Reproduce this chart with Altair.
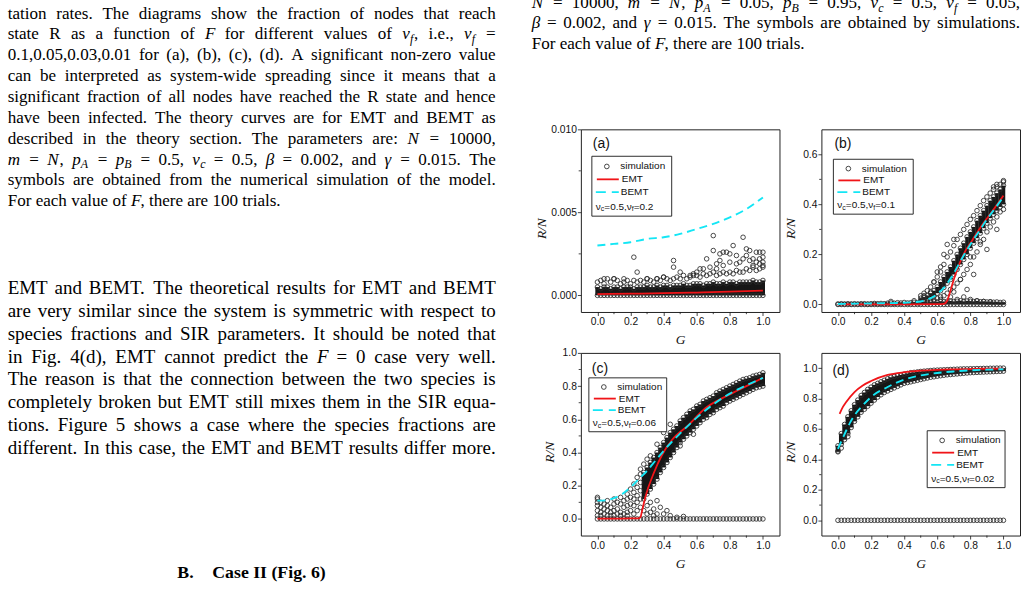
import re
import altair as alt
import pandas as pd

SANS = "Liberation Sans"
SERIF = "Liberation Serif"
RED = "#f01418"
CYAN = "#14e6f5"
INK = "#161616"

# ------------------------------------------------------------------ data
G = [0.00, 0.02, 0.04, 0.06, 0.08, 0.10, 0.12, 0.14, 0.16, 0.18,
     0.20, 0.22, 0.24, 0.26, 0.28, 0.30, 0.32, 0.34, 0.36, 0.38,
     0.40, 0.42, 0.44, 0.46, 0.48, 0.50, 0.52, 0.54, 0.56, 0.58,
     0.60, 0.62, 0.64, 0.66, 0.68, 0.70, 0.72, 0.74, 0.76, 0.78,
     0.80, 0.82, 0.84, 0.86, 0.88, 0.90, 0.92, 0.94, 0.96, 0.98, 1.00]
zero_row = [0.0 for _ in G]

# (a) nu_f = 0.2
a_band_hi = [0.0005, 0.0004, 0.0005, 0.0005, 0.0004, 0.0005, 0.0005, 0.0004, 0.0005, 0.0005,
             0.0005, 0.0004, 0.0005, 0.0005, 0.0005, 0.0006, 0.0005, 0.0005, 0.0006, 0.0005,
             0.0006, 0.0006, 0.0005, 0.0006, 0.0006, 0.0006, 0.0007, 0.0006, 0.0006, 0.0007,
             0.0007, 0.0007, 0.0006, 0.0007, 0.0007, 0.0008, 0.0007, 0.0007, 0.0008, 0.0007,
             0.0008, 0.0008, 0.0007, 0.0008, 0.0008, 0.0008, 0.0008, 0.0009, 0.0008, 0.0008, 0.0009]
a_top = [0.0008, 0.0009, 0.0007, 0.0010, 0.0008, 0.0010, 0.0009, 0.0007, 0.0008, 0.0009,
         0.0007, 0.0009, 0.0008, 0.0009, 0.0008, 0.0010, 0.0009, 0.0008, 0.0010, 0.0009,
         0.0011, 0.0010, 0.0009, 0.0010, 0.0011, 0.0010, 0.0012, 0.0010, 0.0011, 0.0012,
         0.0012, 0.0011, 0.0013, 0.0012, 0.0013, 0.0014, 0.0012, 0.0013, 0.0014, 0.0013,
         0.0014, 0.0013, 0.0015, 0.0014, 0.0014, 0.0016, 0.0015, 0.0017, 0.0015, 0.0016, 0.0018]
a_out_G = [0.22, 0.24, 0.30, 0.46, 0.46, 0.50, 0.56, 0.62, 0.64, 0.66,
           0.70, 0.70, 0.72, 0.74, 0.74, 0.76, 0.78, 0.80, 0.80, 0.82,
           0.84, 0.86, 0.88, 0.90, 0.90, 0.92, 0.92, 0.94, 0.96, 0.96,
           0.98, 0.98, 1.00, 1.00, 1.00, 0.58, 0.60, 0.68, 0.72, 0.76,
           0.84, 0.88, 0.94, 0.98, 1.00, 0.40, 0.36, 0.10, 0.04, 0.16]
a_out_R = [0.0023, 0.0014, 0.0010, 0.0021, 0.0017, 0.0014, 0.0012, 0.0016, 0.0016, 0.0022,
           0.0036, 0.0027, 0.0019, 0.0025, 0.0021, 0.0026, 0.0026, 0.0025, 0.0020, 0.0030,
           0.0024, 0.0020, 0.0035, 0.0028, 0.0024, 0.0027, 0.0021, 0.0022, 0.0026, 0.0020,
           0.0026, 0.0022, 0.0026, 0.0023, 0.0020, 0.0013, 0.0014, 0.0017, 0.0016, 0.0018,
           0.0019, 0.0022, 0.0018, 0.0019, 0.0017, 0.0011, 0.0010, 0.0010, 0.0010, 0.0010]
a_emt_G = [0.0, 0.2, 0.4, 0.6, 0.8, 1.0]
a_emt = [0.00008, 0.00010, 0.00013, 0.00017, 0.00022, 0.00028]
a_bemt_G = [0.0, 0.1, 0.2, 0.3, 0.4, 0.5, 0.6, 0.7, 0.8, 0.9, 1.0]
a_bemt = [0.0030, 0.0031, 0.0032, 0.0034, 0.0035, 0.0037, 0.0040, 0.0043, 0.0047, 0.0052, 0.0059]

# (b) nu_f = 0.1
b_zero_hi = [0.002, 0.003, 0.002, 0.003, 0.002, 0.003, 0.002, 0.003, 0.003, 0.002,
             0.003, 0.004, 0.003, 0.004, 0.003, 0.005, 0.006, 0.005, 0.007, 0.006,
             0.008, 0.006, 0.007, 0.009, 0.007, 0.008, 0.010, 0.008, 0.009, 0.011,
             0.010, 0.012, 0.011, 0.013, 0.014, 0.012, 0.013, 0.015, 0.012, 0.014,
             0.013, 0.012, 0.014, 0.011, 0.012, 0.010, 0.011, 0.009, 0.010, 0.008, 0.009]
b_band_G = G[25:]
b_core_lo = [0.015, 0.018, 0.022, 0.027, 0.033, 0.045, 0.055, 0.068, 0.085, 0.100,
             0.120, 0.140, 0.160, 0.180, 0.200, 0.225, 0.245, 0.265, 0.285, 0.305,
             0.325, 0.345, 0.360, 0.375, 0.390, 0.400]
b_core_hi = [0.025, 0.030, 0.036, 0.045, 0.055, 0.070, 0.090, 0.110, 0.130, 0.150,
             0.175, 0.200, 0.225, 0.245, 0.270, 0.290, 0.310, 0.335, 0.355, 0.375,
             0.395, 0.415, 0.430, 0.445, 0.460, 0.475]
b_spread_lo = [0.008, 0.010, 0.012, 0.015, 0.018, 0.025, 0.030, 0.035, 0.045, 0.060,
               0.070, 0.085, 0.100, 0.120, 0.140, 0.160, 0.190, 0.210, 0.240, 0.260,
               0.290, 0.310, 0.330, 0.350, 0.370, 0.380]
b_spread_hi = [0.035, 0.045, 0.055, 0.070, 0.090, 0.110, 0.130, 0.160, 0.190, 0.210,
               0.235, 0.260, 0.280, 0.300, 0.320, 0.340, 0.355, 0.375, 0.395, 0.415,
               0.430, 0.445, 0.460, 0.470, 0.480, 0.490]
b_out_G = [0.32, 0.46, 0.52, 0.56, 0.60, 0.62, 0.64, 0.66, 0.70, 0.74,
           0.78, 0.80, 0.82, 0.86, 0.90, 0.96, 0.94, 0.96, 1.00, 0.68,
           0.70, 0.72, 0.76, 0.80, 0.84, 0.88, 0.92, 0.58, 0.62]
b_out_R = [0.012, 0.015, 0.035, 0.050, 0.130, 0.150, 0.200, 0.240, 0.260, 0.100,
           0.060, 0.190, 0.120, 0.250, 0.220, 0.300, 0.470, 0.480, 0.495, 0.030,
           0.050, 0.020, 0.030, 0.020, 0.015, 0.012, 0.010, 0.090, 0.020]
b_emt_G = [0.0, 0.2, 0.4, 0.6, 0.64, 0.66, 0.68, 0.70, 0.72, 0.74, 0.77, 0.81, 0.87, 0.93, 1.0]
b_emt = [0.0, 0.0, 0.0, 0.001, 0.002, 0.015, 0.055, 0.100, 0.140, 0.172, 0.214, 0.255, 0.317, 0.370, 0.435]
b_bemt_G = [0.0, 0.1, 0.2, 0.3, 0.4, 0.5, 0.55, 0.6, 0.65, 0.7, 0.75, 0.8, 0.85, 0.9, 0.95, 1.0]
b_bemt = [0.002, 0.003, 0.004, 0.005, 0.007, 0.012, 0.022, 0.042, 0.075, 0.125, 0.185, 0.240, 0.290, 0.340, 0.385, 0.430]

# (c) nu_f = 0.06
c_scat_G = [0.00, 0.00, 0.00, 0.00, 0.00, 0.00, 0.02, 0.02, 0.02, 0.02,
            0.04, 0.04, 0.04, 0.06, 0.06, 0.06, 0.06, 0.08, 0.08, 0.08,
            0.10, 0.10, 0.10, 0.10, 0.12, 0.12, 0.12, 0.14, 0.14, 0.14,
            0.14, 0.16, 0.16, 0.16, 0.18, 0.18, 0.18, 0.18, 0.18, 0.20,
            0.20, 0.20, 0.20, 0.22, 0.22, 0.22, 0.22, 0.22, 0.24, 0.24,
            0.24, 0.24, 0.24, 0.26, 0.26, 0.26, 0.26, 0.26]
c_scat_R = [0.13, 0.12, 0.10, 0.08, 0.05, 0.02, 0.10, 0.07, 0.04, 0.02,
            0.09, 0.06, 0.03, 0.11, 0.08, 0.05, 0.02, 0.07, 0.04, 0.02,
            0.12, 0.09, 0.05, 0.02, 0.10, 0.06, 0.03, 0.13, 0.09, 0.04,
            0.02, 0.11, 0.07, 0.03, 0.15, 0.12, 0.08, 0.04, 0.02, 0.18,
            0.13, 0.09, 0.05, 0.21, 0.16, 0.12, 0.08, 0.03, 0.25, 0.19,
            0.14, 0.10, 0.05, 0.27, 0.22, 0.17, 0.12, 0.07]
c_band_G = G[14:]
c_band_lo = [0.12, 0.15, 0.18, 0.21, 0.24, 0.28, 0.31, 0.34, 0.37, 0.40,
             0.43, 0.46, 0.48, 0.50, 0.52, 0.54, 0.56, 0.58, 0.60, 0.61,
             0.63, 0.64, 0.66, 0.67, 0.68, 0.70, 0.71, 0.72, 0.73, 0.74,
             0.75, 0.76, 0.77, 0.78, 0.79, 0.795, 0.80]
c_band_hi = [0.28, 0.31, 0.34, 0.37, 0.40, 0.43, 0.46, 0.49, 0.52, 0.54,
             0.56, 0.59, 0.61, 0.63, 0.65, 0.66, 0.68, 0.69, 0.71, 0.72,
             0.73, 0.74, 0.76, 0.77, 0.78, 0.79, 0.80, 0.81, 0.82, 0.83,
             0.84, 0.845, 0.85, 0.86, 0.865, 0.87, 0.88]
c_out_G = [0.28, 0.30, 0.30, 0.32, 0.32, 0.34, 0.34, 0.36, 0.36, 0.38,
           0.40, 0.42, 0.44, 0.48, 0.52, 0.26, 0.28, 0.30, 0.32, 0.36,
           0.40, 0.44, 0.50, 0.58]
c_out_R = [0.05, 0.08, 0.03, 0.04, 0.10, 0.06, 0.02, 0.11, 0.03, 0.07,
           0.03, 0.05, 0.02, 0.01, 0.015, 0.30, 0.33, 0.36, 0.38, 0.45,
           0.52, 0.57, 0.44, 0.51]
c_emt_G = [0.0, 0.1, 0.2, 0.25, 0.26, 0.27, 0.29, 0.34, 0.39, 0.45, 0.55, 0.65, 0.79, 0.9, 1.0]
c_emt = [0.002, 0.002, 0.003, 0.004, 0.010, 0.050, 0.134, 0.275, 0.385, 0.475, 0.565, 0.665, 0.745, 0.800, 0.850]
c_bemt_G = [0.0, 0.05, 0.1, 0.15, 0.2, 0.25, 0.3, 0.35, 0.4, 0.45, 0.5, 0.6, 0.7, 0.8, 0.9, 1.0]
c_bemt = [0.110, 0.112, 0.125, 0.150, 0.190, 0.240, 0.290, 0.350, 0.410, 0.465, 0.515, 0.610, 0.690, 0.755, 0.805, 0.850]

# (d) nu_f = 0.02
d_band_lo = [0.45, 0.50, 0.53, 0.57, 0.61, 0.65, 0.68, 0.71, 0.73, 0.75,
             0.77, 0.79, 0.81, 0.825, 0.84, 0.85, 0.86, 0.87, 0.88, 0.89,
             0.90, 0.905, 0.91, 0.915, 0.92, 0.925, 0.93, 0.935, 0.94, 0.943,
             0.947, 0.95, 0.953, 0.956, 0.958, 0.96, 0.962, 0.964, 0.966, 0.968,
             0.97, 0.971, 0.972, 0.973, 0.974, 0.975, 0.976, 0.977, 0.978, 0.979, 0.98]
d_band_hi = [0.49, 0.57, 0.63, 0.68, 0.72, 0.76, 0.79, 0.82, 0.84, 0.86,
             0.875, 0.89, 0.90, 0.91, 0.92, 0.93, 0.94, 0.945, 0.95, 0.955,
             0.96, 0.965, 0.97, 0.972, 0.975, 0.978, 0.98, 0.982, 0.984, 0.986,
             0.987, 0.988, 0.989, 0.99, 0.991, 0.992, 0.993, 0.994, 0.995, 0.995,
             0.996, 0.996, 0.997, 0.997, 0.998, 0.998, 0.999, 0.999, 1.0, 1.0, 1.0]
d_out_G = [0.00, 0.02, 0.06]
d_out_R = [0.455, 0.475, 0.550]
d_emt_G = [0.01, 0.03, 0.05, 0.1, 0.15, 0.2, 0.3, 0.4, 0.5, 0.6, 0.7, 0.8, 0.9, 1.0]
d_emt = [0.700, 0.745, 0.778, 0.843, 0.886, 0.915, 0.955, 0.973, 0.983, 0.989, 0.992, 0.994, 0.996, 0.997]
d_bemt_G = [0.0, 0.025, 0.05, 0.075, 0.1, 0.15, 0.2, 0.3, 0.4, 0.5, 0.6, 0.7, 0.8, 0.9, 1.0]
d_bemt = [0.470, 0.530, 0.590, 0.645, 0.690, 0.755, 0.810, 0.876, 0.924, 0.952, 0.968, 0.978, 0.985, 0.990, 0.993]

X_MAJOR = [0.0, 0.2, 0.4, 0.6, 0.8, 1.0]
X_MINOR = [0.1, 0.3, 0.5, 0.7, 0.9]

# page text (surrounding paper text)
LEFT_CAPTION = [
    ("tation rates. The diagrams show the fraction of nodes that reach", True),
    ("state R as a function of *F* for different values of *ν*_{f}, i.e., *ν*_{f} =", True),
    ("0.1,0.05,0.03,0.01 for (a), (b), (c), (d). A significant non-zero value", True),
    ("can be interpreted as system-wide spreading since it means that a", True),
    ("significant fraction of all nodes have reached the R state and hence", True),
    ("have been infected. The theory curves are for EMT and BEMT as", True),
    ("described in the theory section. The parameters are: *N* = 10000,", True),
    ("*m* = *N*, *p*_{A} = *p*_{B} = 0.5, *ν*_{c} = 0.5, *β* = 0.002, and *γ* = 0.015. The", True),
    ("symbols are obtained from the numerical simulation of the model.", True),
    ("For each value of *F*, there are 100 trials.", False),
]
RIGHT_CAPTION = [
    ("*N* = 10000, *m* = *N*, *p*_{A} = 0.05, *p*_{B} = 0.95, *ν*_{c} = 0.5, *ν*_{f} = 0.05,", True),
    ("*β* = 0.002, and *γ* = 0.015. The symbols are obtained by simulations.", True),
    ("For each value of *F*, there are 100 trials.", False),
]
BODY = [
    ("EMT and BEMT. The theoretical results for EMT and BEMT", True),
    ("are very similar since the system is symmetric with respect to", True),
    ("species fractions and SIR parameters. It should be noted that", True),
    ("in Fig. 4(d), EMT cannot predict the *F* = 0 case very well.", True),
    ("The reason is that the connection between the two species is", True),
    ("completely broken but EMT still mixes them in the SIR equa-", True),
    ("tions. Figure 5 shows a case where the species fractions are", True),
    ("different. In this case, the EMT and BEMT results differ more.", True),
]
HEADING = [("B.", 176.7), ("Case II (Fig. 6)", 211.7)]

# ------------------------------------------------------------------ layout
W, H = 199, 183            # plot area of each panel
PX0, PY0 = 581, 128        # page position of panel (a)
TOPCUT, BOTCUT, RIGHTCUT = 30, 21, 32

TNR = {' ': 250, '!': 333, '"': 408, "'": 180, '(': 333, ')': 333, ',': 250, '-': 333,
       '.': 250, '/': 278, ':': 278, ';': 278, '=': 564, '?': 444,
       'A': 722, 'B': 667, 'C': 667, 'D': 722, 'E': 611, 'F': 556, 'G': 722, 'H': 722,
       'I': 333, 'J': 389, 'K': 722, 'L': 611, 'M': 889, 'N': 722, 'O': 722, 'P': 556,
       'Q': 722, 'R': 667, 'S': 556, 'T': 611, 'U': 722, 'V': 722, 'W': 944, 'X': 722,
       'Y': 722, 'Z': 611, 'a': 444, 'b': 500, 'c': 444, 'd': 500, 'e': 444, 'f': 333,
       'g': 500, 'h': 500, 'i': 278, 'j': 278, 'k': 500, 'l': 278, 'm': 778, 'n': 500,
       'o': 500, 'p': 500, 'q': 500, 'r': 333, 's': 389, 't': 278, 'u': 500, 'v': 500,
       'w': 722, 'x': 500, 'y': 500, 'z': 444, 'ν': 460, 'β': 500, 'γ': 430}
ARIAL = {'ν': 500, 'c': 500, 'f': 278, '=': 584, '.': 278, ',': 278}


def tw(s, fs):
    return sum(TNR.get(ch, 500) for ch in s) * fs / 1000.0


def aw(s, fs):
    return sum(ARIAL.get(ch, 556) for ch in s) * fs / 1000.0


TOKEN = re.compile(r"\*([^*]+)\*|_\{([^}]+)\}")


def runs_of(word):
    out, pos = [], 0
    for m in TOKEN.finditer(word):
        if m.start() > pos:
            out.append((word[pos:m.start()], "r"))
        out.append((m.group(1), "i") if m.group(1) else (m.group(2), "s"))
        pos = m.end()
    if pos < len(word):
        out.append((word[pos:], "r"))
    return out


def set_lines(lines, x0, width, base0, lead, fs, rows):
    for i, (line, justify) in enumerate(lines):
        words = [runs_of(w) for w in line.split()]
        sizes = [sum(tw(t, fs * (0.7 if s == "s" else 1.0)) for t, s in runs) for runs in words]
        gap = fs * 0.25
        if justify and len(words) > 1:
            gap = (width - sum(sizes)) / (len(words) - 1)
        x = x0
        base = base0 + i * lead
        for runs, wsz in zip(words, sizes):
            cx = x
            for t, s in runs:
                f = fs * (0.7 if s == "s" else 1.0)
                rows.append(dict(x=cx - PX0, y=base + (0.22 * fs if s == "s" else 0.0) - PY0,
                                 t=t, fs=f, st="normal" if s == "r" else "italic"))
                cx += tw(t, f)
            x += wsz + gap


page_rows = []
set_lines(LEFT_CAPTION, 6.7, 489.0, 17.0, 20.9, 17.1, page_rows)
set_lines(RIGHT_CAPTION, 531.7, 489.3, 6.5, 20.4, 17.1, page_rows)
set_lines(BODY, 6.7, 489.0, 293.3, 22.8, 19.0, page_rows)
page_df = pd.DataFrame(page_rows)
head_df = pd.DataFrame([dict(x=x - PX0, y=578.0 - PY0, t=t, fs=17.8) for t, x in HEADING])

ONE = pd.DataFrame({"k": [0]})


def text_layer(df, style="normal", weight="normal"):
    return alt.Chart(df).mark_text(
        align="left", baseline="alphabetic", font=SERIF, fontStyle=style,
        fontWeight=weight, color="#000"
    ).encode(
        x=alt.X("x:Q", scale=None), y=alt.Y("y:Q", scale=None), text="t:N",
        size=alt.Size("fs:Q", scale=None, legend=None),
    )


def points_df(*pairs):
    gs, rs = [], []
    for gl, rl in pairs:
        gs += list(gl)
        rs += list(rl)
    return pd.DataFrame({"G": gs, "R": rs})


def legend_layers(bx, by, bw, bh, nuf):
    r = [by + bh * f for f in (0.17, 0.385, 0.6, 0.84)]
    fs, sub = 10.0, 7.0
    box = alt.Chart(ONE).mark_rect(fill="white", stroke=INK, strokeWidth=0.9).encode(
        x=alt.value(bx), x2=alt.value(bx + bw), y=alt.value(by), y2=alt.value(by + bh))
    dot = alt.Chart(ONE).mark_point(shape="circle", filled=False, size=22, strokeWidth=0.9,
                                    color="#333", opacity=1).encode(
        x=alt.value(bx + 15), y=alt.value(r[0]))
    red = alt.Chart(ONE).mark_rule(color=RED, strokeWidth=1.8).encode(
        x=alt.value(bx + 5), x2=alt.value(bx + 27), y=alt.value(r[1]))
    cyan = alt.Chart(ONE).mark_rule(color=CYAN, strokeWidth=1.8, strokeDash=[10, 6]).encode(
        x=alt.value(bx + 4), x2=alt.value(bx + 27), y=alt.value(r[2]))
    rows = [dict(x=bx + 28.5, y=r[0], t="simulation", fs=fs),
            dict(x=bx + 30, y=r[1], t="EMT", fs=fs),
            dict(x=bx + 29, y=r[2], t="BEMT", fs=fs)]
    cx = bx + 4
    for t, f, dy in [("ν", fs, 0), ("c", sub, 2.7), ("=0.5,ν", fs, 0), ("f", sub, 2.7), ("=" + nuf, fs, 0)]:
        rows.append(dict(x=cx, y=r[3] + dy, t=t, fs=f))
        cx += aw(t, f)
    txt = alt.Chart(pd.DataFrame(rows)).mark_text(
        align="left", baseline="middle", font=SANS, color="#111").encode(
        x=alt.X("x:Q", scale=None), y=alt.Y("y:Q", scale=None), text="t:N",
        size=alt.Size("fs:Q", scale=None, legend=None))
    return [box, dot, red, cyan, txt]


def panel(label, lab_xy, ydom, yvals, yminor, yfmt, ytx, bands, pts, emt, bemt, legend, nuf,
          band_w=4.2, extra=None):
    xs = alt.Scale(domain=[-0.1, 1.1], nice=False, zero=False)
    ys = alt.Scale(domain=ydom, nice=False, zero=False)
    xax = alt.Axis(values=X_MAJOR, format=".1f", title="G", titleX=W / 2, titleY=28,
                   titleBaseline="middle", titleAlign="center", labelFlush=False, labelPadding=1.5)
    yax = alt.Axis(values=yvals, format=yfmt, title="R/N", titleAngle=270, titleX=ytx, titleY=99,
                   titleBaseline="middle", titleAlign="center", labelFlush=False, labelPadding=1)

    def X(f):
        return alt.X(f + ":Q", scale=xs, axis=xax)

    def Y(f):
        return alt.Y(f + ":Q", scale=ys, axis=yax)

    layers = []
    for bd in bands:
        layers.append(alt.Chart(bd).mark_rule(color=INK, strokeWidth=band_w).encode(
            x=X("G"), y=Y("lo"), y2=alt.Y2("hi")))
    layers.append(alt.Chart(pts).mark_point(shape="circle", filled=False, size=21, strokeWidth=0.85,
                                            color="#2a2a2a", opacity=1).encode(x=X("G"), y=Y("R")))
    layers.append(alt.Chart(emt).mark_line(color=RED, strokeWidth=1.8, interpolate="monotone").encode(
        x=X("G"), y=Y("R")))
    layers.append(alt.Chart(bemt).mark_line(color=CYAN, strokeWidth=1.9, strokeDash=[8, 5],
                                            interpolate="monotone").encode(x=X("G"), y=Y("R")))
    layers.append(alt.Chart(pd.DataFrame({"m": yminor})).mark_rule(color=INK, strokeWidth=0.8).encode(
        y=Y("m"), x=alt.value(-2.2), x2=alt.value(0)))
    layers.append(alt.Chart(pd.DataFrame({"m": X_MINOR})).mark_rule(color=INK, strokeWidth=0.8).encode(
        x=X("m"), y=alt.value(H), y2=alt.value(H + 2.2)))
    layers += legend_layers(*legend, nuf)
    layers.append(alt.Chart(ONE).mark_text(align="left", baseline="alphabetic", font=SANS,
                                           fontSize=14, color="#111").encode(
        x=alt.value(lab_xy[0]), y=alt.value(lab_xy[1]), text=alt.value(label)))
    if extra:
        layers += extra
    return alt.layer(*layers).properties(width=W, height=H)


def band_df(gl, lo, hi):
    return pd.DataFrame({"G": gl, "lo": lo, "hi": hi})


def line_df(gl, rl):
    return pd.DataFrame({"G": gl, "R": rl})


anchor = alt.Chart(ONE).mark_rule(opacity=0, strokeOpacity=0).encode(
    x=alt.value(-PX0), x2=alt.value(1028 + RIGHTCUT - PX0),
    y=alt.value(-PY0 - TOPCUT), y2=alt.value(599 + BOTCUT - PY0))

page_layers = [
    anchor,
    text_layer(page_df[page_df.st == "normal"]),
    text_layer(page_df[page_df.st == "italic"], style="italic"),
    text_layer(head_df, weight="bold"),
]

pa = panel("(a)", (12, 19), [-0.001, 0.010], [0.0, 0.005, 0.010], [0.0025, 0.0075], ".3f", -39,
           [band_df(G, zero_row, a_band_hi)],
           points_df((G, zero_row), (G, a_band_hi), (G, a_top), (a_out_G, a_out_R)),
           line_df(a_emt_G, a_emt), line_df(a_bemt_G, a_bemt),
           (11, 27, 80, 60), "0.2", extra=page_layers)
pb = panel("(b)", (13, 19), [-0.03, 0.70], [0.0, 0.2, 0.4, 0.6], [0.1, 0.3, 0.5], ".1f", -31,
           [band_df(G, zero_row, b_zero_hi), band_df(b_band_G, b_core_lo, b_core_hi)],
           points_df((G, zero_row), (G, b_zero_hi), (b_band_G, b_core_lo), (b_band_G, b_core_hi),
                     (b_band_G, b_spread_lo), (b_band_G, b_spread_hi), (b_out_G, b_out_R)),
           line_df(b_emt_G, b_emt), line_df(b_bemt_G, b_bemt),
           (12, 30, 80, 55), "0.1", band_w=3.6)
pc = panel("(c)", (11, 20), [-0.1, 1.0], [0.0, 0.2, 0.4, 0.6, 0.8, 1.0],
           [0.1, 0.3, 0.5, 0.7, 0.9], ".1f", -31,
           [band_df(c_band_G, c_band_lo, c_band_hi)],
           points_df((G, zero_row), (c_scat_G, c_scat_R), (c_band_G, c_band_lo),
                     (c_band_G, c_band_hi), (c_out_G, c_out_R)),
           line_df(c_emt_G, c_emt), line_df(c_bemt_G, c_bemt),
           (8, 25, 78, 54), "0.06")
pd_ = panel("(d)", (11, 22), [-0.1, 1.1], [0.0, 0.2, 0.4, 0.6, 0.8, 1.0],
            [0.1, 0.3, 0.5, 0.7, 0.9], ".1f", -31,
            [band_df(G, d_band_lo, d_band_hi)],
            points_df((G, zero_row), (G, d_band_lo), (G, d_band_hi), (d_out_G, d_out_R)),
            line_df(d_emt_G, d_emt), line_df(d_bemt_G, d_bemt),
            (106, 78, 78, 57), "0.02", band_w=4.6)

chart = alt.concat(
    pa, pb, pc, pd_, columns=2, spacing={"row": 41, "column": 42}, bounds="flush"
).properties(
    padding={"left": 0, "top": -TOPCUT, "right": -RIGHTCUT, "bottom": -BOTCUT},
    background="white",
).configure_view(
    stroke="#222", strokeWidth=1
).configure_axis(
    grid=False, domain=False, ticks=True, tickSize=3.5, tickWidth=0.8, tickColor=INK,
    labelFont=SANS, labelFontSize=10.3, labelColor="#111",
    titleFont=SERIF, titleFontSize=13.5, titleFontStyle="italic", titleFontWeight="normal",
    titleColor="#111",
)

chart.save("out.html", embed_options={"renderer": "svg", "actions": False})
